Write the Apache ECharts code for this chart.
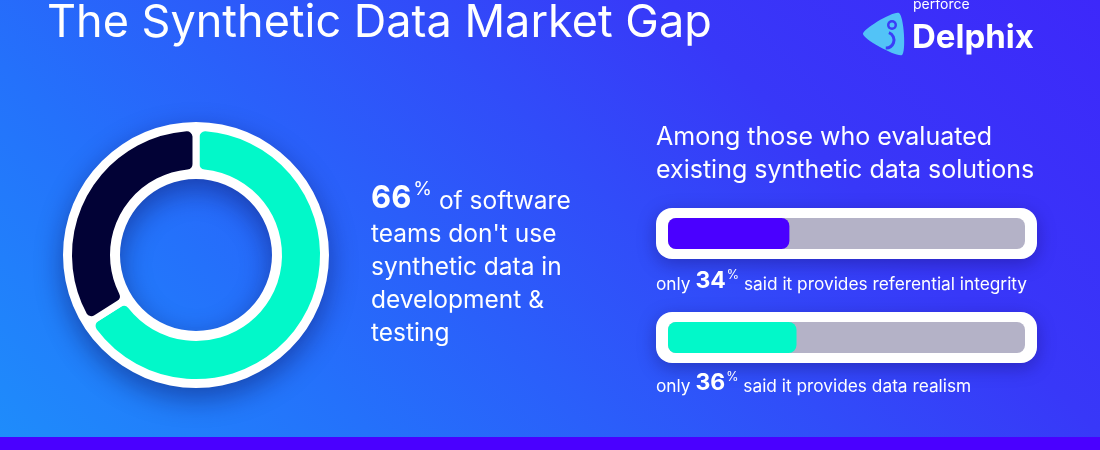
<!DOCTYPE html>
<html>
<head>
<meta charset="utf-8">
<script src="https://cdn.jsdelivr.net/npm/echarts@6/dist/echarts.min.js"></script>
<style>html,body{margin:0;padding:0;}#c{width:1100px;height:450px;}</style>
</head>
<body>
<div id="c"></div>
<script>
// ---- data ----
const titleText = 'The Synthetic Data Market Gap';
const donutCategories = ["Don't use synthetic data", 'Use synthetic data'];
const donutValues = [66, 34];
const donutColors = ['#02f8c9', '#020236'];
const barCategories = ['referential integrity', 'data realism'];
const barValues = [34, 36];
const barColors = ['#4a00ff', '#02f8c9'];
const headingLines = ['Among those who evaluated', 'existing synthetic data solutions'];

const FONT = 'Inter';
const chart = echarts.init(document.getElementById('c'));

const whitePills = [
  {x: 656, y: 208, w: 381, h: 51},
  {x: 656, y: 312, w: 381, h: 51}
];
const barLabelY = [267, 369];

const graphics = [
  {type: 'rect', z: 0, shape: {x: 0, y: 437, width: 1100, height: 13}, style: {fill: '#4a00ff'}},
  {type: 'text', z: 10, style: {text: titleText, x: 47, y: 1, fill: '#fff', font: '400 45px ' + FONT, verticalAlign: 'top'}},
  // logo
  {type: 'text', z: 10, style: {text: 'perforce', x: 913, y: 12, fill: '#fff', font: '400 14px ' + FONT, verticalAlign: 'bottom'}},
  {type: 'text', z: 10, style: {text: 'Delphix', x: 912, y: 22, fill: '#fff', font: '700 33px ' + FONT, verticalAlign: 'top'}},
  {type: 'polygon', z: 10, shape: {points: [[899, 13], [863, 34], [902, 55]], smooth: 0.25}, style: {fill: '#52c3f7'}},
  {type: 'circle', z: 11, shape: {cx: 892, cy: 25, r: 5}, style: {fill: '#3a3ef8'}},
  {type: 'circle', z: 11, shape: {cx: 892, cy: 25, r: 2.5}, style: {fill: '#52c3f7'}},
  {type: 'arc', z: 11, shape: {cx: 886, cy: 40, r: 8, startAngle: -1.2, endAngle: 1.6}, style: {stroke: '#3a3ef8', lineWidth: 3, fill: null}},
  // heading
  {type: 'text', z: 10, style: {text: headingLines.join('\n'), x: 656, y: 121, fill: '#fff', font: '400 25px ' + FONT, lineHeight: 33, verticalAlign: 'top'}},
  // middle text
  {type: 'text', z: 10, style: {
    x: 371, y: 177, verticalAlign: 'top', fill: '#fff',
    text: '{b|' + donutValues[0] + '}{p|%}{t|of software}\n{t|teams don\'t use}\n{t|synthetic data in}\n{t|development &}\n{t|testing}',
    rich: {
      b: {fontFamily: FONT, fontWeight: 700, fontSize: 31, lineHeight: 37, verticalAlign: 'bottom', fill: '#fff'},
      p: {fontFamily: FONT, fontWeight: 400, fontSize: 19, lineHeight: 19, verticalAlign: 'top', fill: '#fff', padding: [3, 7, 0, 2]},
      t: {fontFamily: FONT, fontWeight: 400, fontSize: 24.5, lineHeight: 33, verticalAlign: 'bottom', fill: '#fff'}
    }
  }}
];

whitePills.forEach(function (p) {
  graphics.push({type: 'rect', z: 0, shape: {x: p.x, y: p.y, width: p.w, height: p.h, r: 16},
    style: {fill: '#fff', shadowBlur: 18, shadowColor: 'rgba(20,10,90,0.35)', shadowOffsetY: 5}});
});
barCategories.forEach(function (c, i) {
  graphics.push({type: 'text', z: 10, style: {
    x: 656, y: barLabelY[i], verticalAlign: 'top', fill: '#fff',
    text: '{t|only }{b|' + barValues[i] + '}{p|%}{t| said it provides ' + c + '}',
    rich: {
      b: {fontFamily: FONT, fontWeight: 700, fontSize: 23, lineHeight: 26, verticalAlign: 'bottom', fill: '#fff'},
      p: {fontFamily: FONT, fontSize: 12.5, lineHeight: 12, verticalAlign: 'top', fill: '#fff', padding: [2, 0, 0, 1]},
      t: {fontFamily: FONT, fontSize: 17.3, lineHeight: 23, verticalAlign: 'bottom', fill: '#fff'}
    }
  }});
});

const option = {
  backgroundColor: new echarts.graphic.LinearGradient(0, 450, 775, -325, [
    {offset: 0, color: '#1e8dfb'},
    {offset: 0.25, color: '#2471fb'},
    {offset: 0.72, color: '#3838f8'},
    {offset: 1, color: '#3d28fa'}
  ], true),
  animation: false,
  grid: {left: 668, right: 75, top: 181.5, height: 208},
  xAxis: {type: 'value', min: 0, max: 100, show: false},
  yAxis: {type: 'category', data: barCategories, inverse: true, show: false},
  graphic: {elements: graphics},
  series: [
    {
      type: 'pie', silent: true, center: [196, 255], radius: [76, 133], z: 1,
      label: {show: false}, labelLine: {show: false},
      itemStyle: {color: '#fff', shadowBlur: 28, shadowColor: 'rgba(10,10,80,0.45)', shadowOffsetY: 10},
      data: [{value: 1, name: 'ring'}]
    },
    {
      type: 'pie', silent: true, center: [196, 255], radius: [82.5, 127.5], z: 2,
      startAngle: 90, clockwise: true,
      label: {show: false}, labelLine: {show: false},
      itemStyle: {borderColor: '#fff', borderWidth: 7, borderRadius: 9},
      data: donutCategories.map(function (c, i) {
        return {name: c, value: donutValues[i], itemStyle: {color: donutColors[i]}};
      })
    },
    {
      type: 'bar', silent: true, barWidth: 31, z: 3,
      showBackground: true,
      backgroundStyle: {color: '#b4b2c7', borderRadius: 8},
      data: barValues.map(function (v, i) {
        return {value: v, itemStyle: {color: barColors[i], borderRadius: 8}};
      })
    }
  ]
};
chart.setOption(option);
</script>
</body>
</html>
